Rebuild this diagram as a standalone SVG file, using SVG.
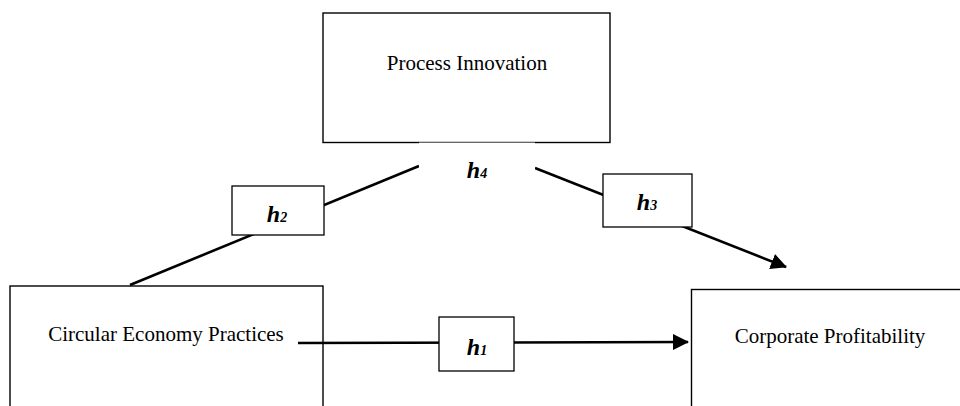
<svg xmlns="http://www.w3.org/2000/svg" width="960" height="406" viewBox="0 0 960 406">
<style>
.box{fill:#fff;stroke:#000;stroke-width:1.4}
.lbl{fill:#fff;stroke:#000;stroke-width:1.3}
.t{font-family:"Liberation Serif",serif;font-size:21px;fill:#000;text-anchor:middle}
.h{font-family:"Liberation Serif",serif;font-size:24px;font-weight:bold;font-style:italic;fill:#000;text-anchor:middle}
.sub{font-size:14px}
.ln{stroke:#000;stroke-width:2.6;fill:none}
</style>
<defs>
<marker id="ah" markerWidth="16" markerHeight="16" refX="15" refY="8" orient="auto" markerUnits="userSpaceOnUse" viewBox="0 0 16 16">
<path d="M0,0 L16,8 L0,16 Z" fill="#000"/>
</marker>
</defs>
<g id="process-innovation">
<rect class="box" x="323" y="13" width="287" height="129.5"/>
<text class="t" x="467" y="70">Process Innovation</text>
</g>
<g id="circular-economy">
<rect class="box" x="10" y="286" width="313" height="130"/>
<text class="t" x="166" y="341">Circular Economy Practices</text>
</g>
<g id="corporate-profitability">
<rect class="box" x="691.5" y="289.5" width="290" height="130"/>
<text class="t" x="830" y="343">Corporate Profitability</text>
</g>
<g id="connectors">
<line class="ln" x1="130" y1="285" x2="419" y2="166"/>
<line class="ln" x1="535" y1="168" x2="786" y2="267" marker-end="url(#ah)"/>
<line class="ln" x1="298" y1="343" x2="688" y2="342" marker-end="url(#ah)"/>
</g>
<g id="h4">
<rect x="419" y="142.6" width="116" height="48" fill="#fff"/>
<text class="h" x="477" y="178">h<tspan class="sub">4</tspan></text>
</g>
<g id="h2">
<rect class="lbl" x="232" y="186" width="92" height="49"/>
<text class="h" x="277" y="222">h<tspan class="sub">2</tspan></text>
</g>
<g id="h3">
<rect class="lbl" x="603" y="174" width="89" height="53"/>
<text class="h" x="647" y="210">h<tspan class="sub">3</tspan></text>
</g>
<g id="h1">
<rect class="lbl" x="439" y="317" width="75" height="54"/>
<text class="h" x="477" y="355">h<tspan class="sub">1</tspan></text>
</g>
</svg>
